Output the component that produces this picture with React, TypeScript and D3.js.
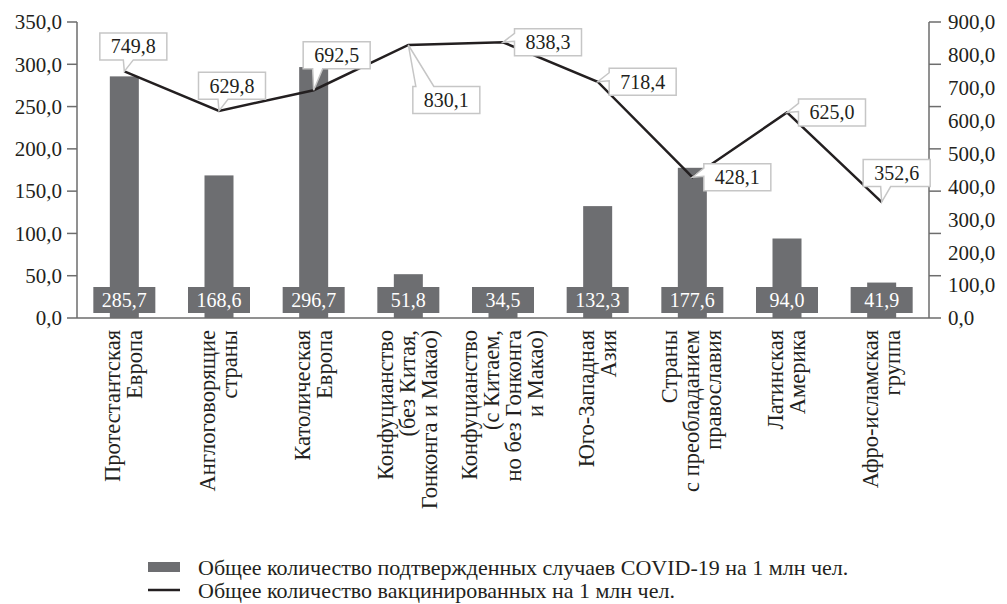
import React, { useEffect, useRef } from 'react';
import * as d3 from 'd3';

const categories = [
  ['Протестантская', 'Европа'],
  ['Англоговорящие', 'страны'],
  ['Католическая', 'Европа'],
  ['Конфуцианство', '(без Китая,', 'Гонконга и Макао)'],
  ['Конфуцианство', '(с Китаем,', 'но без Гонконга', 'и Макао)'],
  ['Юго-Западная', 'Азия'],
  ['Страны', 'с преобладанием', 'православия'],
  ['Латинская', 'Америка'],
  ['Афро-исламская', 'группа'],
];
const cases = [285.7, 168.6, 296.7, 51.8, 34.5, 132.3, 177.6, 94.0, 41.9];
const vaccinated = [749.8, 629.8, 692.5, 830.1, 838.3, 718.4, 428.1, 625.0, 352.6];
const leftTicks = [0, 50, 100, 150, 200, 250, 300, 350];
const rightTicks = [0, 100, 200, 300, 400, 500, 600, 700, 800, 900];
const legendLabels = [
  'Общее количество подтвержденных случаев COVID-19 на 1 млн чел.',
  'Общее количество вакцинированных на 1 млн чел.',
];

// where each line-label box sits relative to its point (layout only)
const calloutPlacement = [
  { dx: 9, dy: -25, side: 'bottom' },
  { dx: 13, dy: -25, side: 'bottom' },
  { dx: 23, dy: -35, side: 'bottom' },
  { dx: 38, dy: 55, side: 'top' },
  { dx: 45, dy: 0, side: 'left' },
  { dx: 45, dy: 0, side: 'left' },
  { dx: 45, dy: 0, side: 'left' },
  { dx: 45, dy: 0, side: 'left' },
  { dx: 15, dy: -29, side: 'bottom' },
];

const fmt = (v: number) => d3.format('.1f')(v).replace('.', ',');
const FONT = '"Liberation Serif", "Times New Roman", serif';
const BAR = '#6d6e71';
const AXIS = '#6d6d6d';
const INK = '#231f20';

const App = () => {
  const svgRef = useRef<SVGSVGElement>(null);

  useEffect(() => {
    const svg = d3.select(svgRef.current);
    svg.selectAll('*').remove();

    const width = 1007;
    const height = 604;
    const margin = { top: 22, right: 78, bottom: 286, left: 77 };
    const x0 = margin.left;
    const x1 = width - margin.right;
    const yTop = margin.top;
    const yBot = height - margin.bottom;

    svg.attr('width', width).attr('height', height).style('font-family', FONT);

    const x = d3.scaleBand<number>()
      .domain(d3.range(categories.length))
      .range([x0, x1]);
    const yL = d3.scaleLinear().domain([0, 350]).range([yBot, yTop]);
    const yR = d3.scaleLinear().domain([0, 900]).range([yBot, yTop]);
    const cx = (i: number) => x(i)! + x.bandwidth() / 2;

    // bars
    const barW = 29;
    svg.append('g').selectAll('rect')
      .data(cases)
      .enter().append('rect')
      .attr('x', (d, i) => cx(i) - barW / 2)
      .attr('y', d => yL(d))
      .attr('width', barW)
      .attr('height', d => yBot - yL(d))
      .attr('fill', BAR);

    // axes
    const ax = svg.append('g').attr('stroke', AXIS).attr('stroke-width', 1.5);
    ax.append('line').attr('x1', x0).attr('x2', x0).attr('y1', yTop).attr('y2', yBot);
    ax.append('line').attr('x1', x1).attr('x2', x1).attr('y1', yTop).attr('y2', yBot);
    ax.append('line').attr('x1', x0).attr('x2', x1).attr('y1', yBot).attr('y2', yBot);
    ax.selectAll('.tl').data(leftTicks).enter().append('line')
      .attr('x1', x0 - 10).attr('x2', x0)
      .attr('y1', d => yL(d)).attr('y2', d => yL(d));
    // right tick marks follow the primary grid, as in the source
    ax.selectAll('.tr').data(leftTicks).enter().append('line')
      .attr('x1', x1).attr('x2', x1 + 12)
      .attr('y1', d => yL(d)).attr('y2', d => yL(d));

    svg.append('g').selectAll('text')
      .data(leftTicks)
      .enter().append('text')
      .attr('x', x0 - 15)
      .attr('y', d => yL(d))
      .attr('dy', '0.35em')
      .attr('text-anchor', 'end')
      .attr('font-size', 21)
      .attr('fill', INK)
      .text(d => fmt(d));

    svg.append('g').selectAll('text')
      .data(rightTicks)
      .enter().append('text')
      .attr('x', x1 + 19)
      .attr('y', d => yR(d))
      .attr('dy', '0.35em')
      .attr('font-size', 21)
      .attr('fill', INK)
      .text(d => fmt(d));

    // bar value labels
    const bl = svg.append('g').selectAll('g')
      .data(cases)
      .enter().append('g')
      .attr('transform', (d, i) => `translate(${cx(i)}, ${yBot - 18})`);
    bl.append('rect')
      .attr('x', -31).attr('y', -13).attr('width', 62).attr('height', 26)
      .attr('fill', BAR);
    bl.append('text')
      .attr('text-anchor', 'middle')
      .attr('dy', '0.35em')
      .attr('font-size', 20)
      .attr('fill', '#fff')
      .text(d => fmt(d));

    // category labels
    const lh = 22;
    const cl = svg.append('g').selectAll('text')
      .data(categories)
      .enter().append('text')
      .attr('transform', (d, i) => `translate(${cx(i) - 1}, ${yBot + 12}) rotate(-90)`)
      .attr('text-anchor', 'end')
      .attr('font-size', 22.5)
      .attr('fill', INK);
    cl.each(function (lines) {
      const t = d3.select(this);
      lines.forEach((ln, k) => {
        t.append('tspan')
          .attr('x', 0)
          .attr('y', (k - (lines.length - 1) / 2) * lh)
          .attr('dy', '0.35em')
          .text(ln);
      });
    });

    // line
    const line = d3.line<number>()
      .x((d, i) => cx(i))
      .y(d => yR(d));
    svg.append('path')
      .datum(vaccinated)
      .attr('d', line)
      .attr('fill', 'none')
      .attr('stroke', INK)
      .attr('stroke-width', 2.5)
      .attr('stroke-linejoin', 'miter');

    // callouts
    const bw = 67;
    const bh = 27;
    const callouts = svg.append('g').selectAll('g')
      .data(vaccinated)
      .enter().append('g');
    callouts.append('path')
      .attr('fill', '#fff')
      .attr('stroke', '#c6c6c6')
      .attr('stroke-width', 1.5)
      .attr('d', (d, i) => {
        const px = cx(i);
        const py = yR(d);
        const p = calloutPlacement[i];
        const l = px + p.dx - bw / 2;
        const r = l + bw;
        const t = py + p.dy - bh / 2;
        const b = t + bh;
        const clamp = (v: number, a: number, c: number) => Math.max(a, Math.min(c, v));
        if (p.side === 'bottom') {
          const m = clamp(px + 4, l + 10, r - 10);
          return `M${l},${t}H${r}V${b}H${m + 5}L${px},${py}L${m - 5},${b}H${l}Z`;
        }
        if (p.side === 'top') {
          const m = clamp(px + 14, l + 12, r - 12);
          return `M${l},${t}H${m - 9}L${px},${py}L${m + 9},${t}H${r}V${b}H${l}Z`;
        }
        const m = clamp(py - 5, t + 5, b - 5);
        return `M${l},${t}H${r}V${b}H${l}V${m + 4}L${px},${py}L${l},${m - 4}Z`;
      });
    callouts.append('text')
      .attr('x', (d, i) => cx(i) + calloutPlacement[i].dx)
      .attr('y', (d, i) => yR(d) + calloutPlacement[i].dy)
      .attr('dy', '0.35em')
      .attr('text-anchor', 'middle')
      .attr('font-size', 20)
      .attr('fill', INK)
      .text(d => fmt(d));

    // legend
    const lg = svg.append('g').attr('transform', 'translate(148, 567)');
    lg.append('rect').attr('x', 0).attr('y', -5).attr('width', 32).attr('height', 10).attr('fill', BAR);
    lg.append('line').attr('x1', 0).attr('x2', 32).attr('y1', 23).attr('y2', 23)
      .attr('stroke', INK).attr('stroke-width', 2.5);
    lg.selectAll('text')
      .data(legendLabels)
      .enter().append('text')
      .attr('x', 50)
      .attr('y', (d, i) => i * 23)
      .attr('dy', '0.35em')
      .attr('font-size', 22)
      .attr('fill', INK)
      .text(d => d);
  }, []);

  return <svg ref={svgRef} style={{ position: 'absolute', left: 0, top: 0 }}></svg>;
};

export default App;
